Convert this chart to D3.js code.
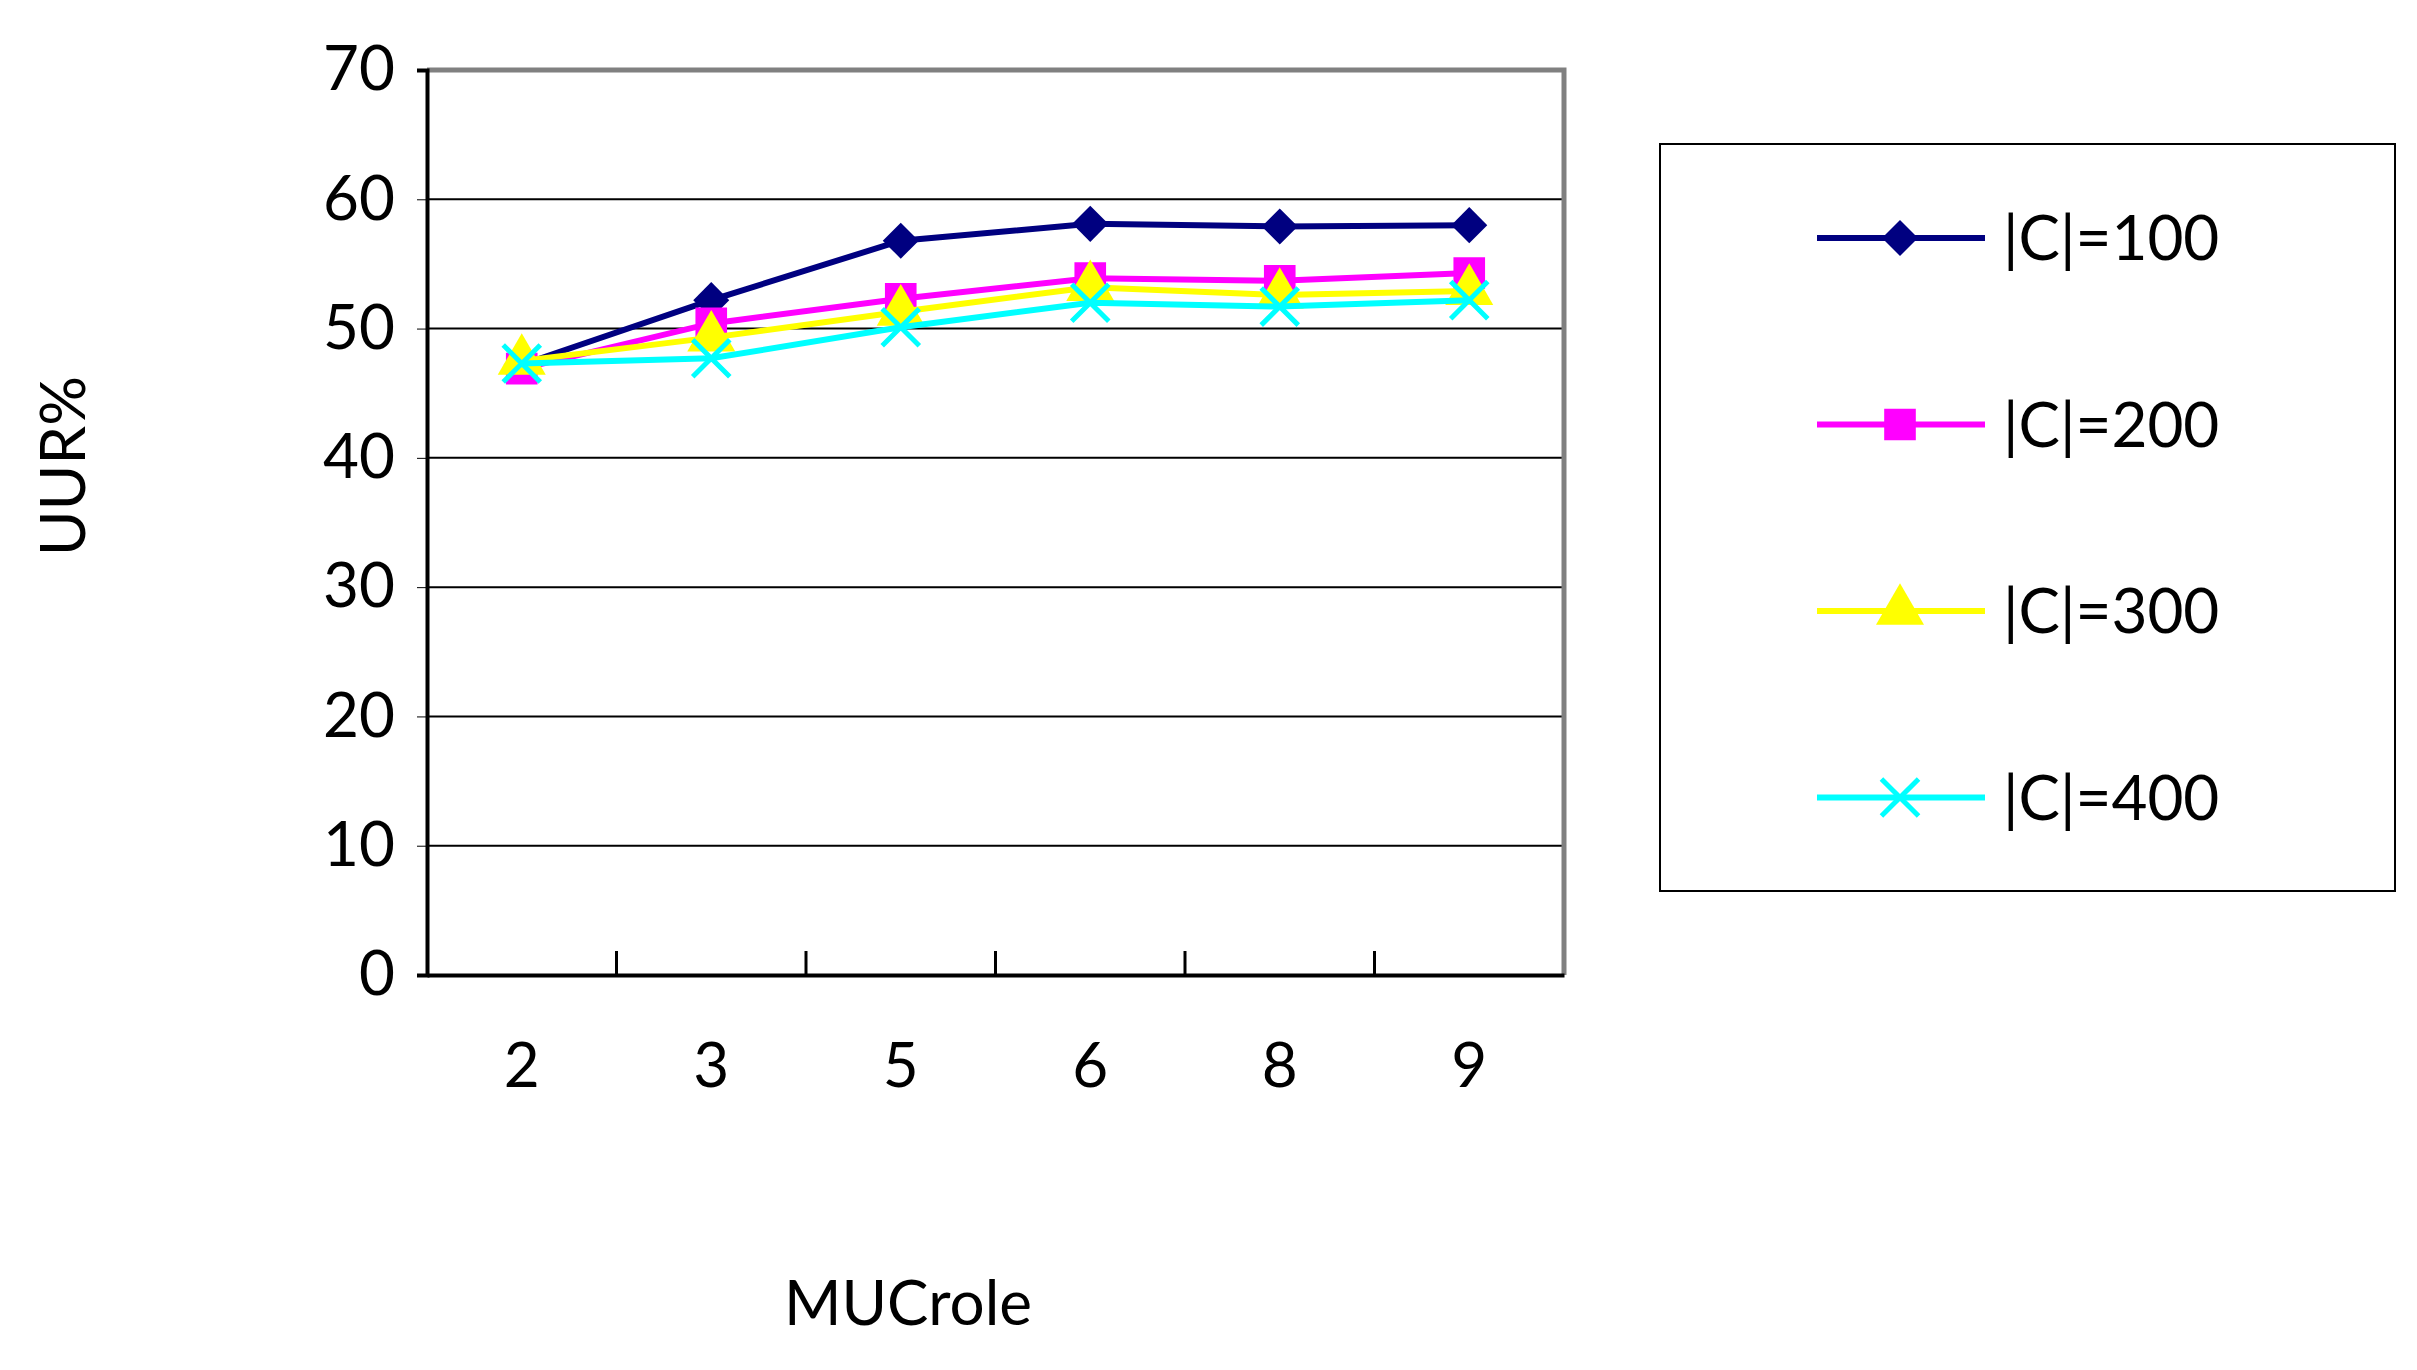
<!DOCTYPE html>
<html><head><meta charset="utf-8">
<script src="https://cdn.jsdelivr.net/npm/d3@7"></script>
<style>body{margin:0;background:#fff}text{font-family:Lato,"Open Sans",sans-serif}</style>
</head><body>
<script>
var categories = ['2', '3', '5', '6', '8', '9'];
var seriesNames = ['|C|=100', '|C|=200', '|C|=300', '|C|=400'];
var c100 = [47.2, 52.2, 56.8, 58.1, 57.9, 58.0];
var c200 = [46.9, 50.4, 52.3, 53.9, 53.7, 54.3];
var c300 = [47.5, 49.3, 51.3, 53.2, 52.6, 52.9];
var c400 = [47.3, 47.7, 50.1, 52.0, 51.7, 52.2];
var yTicks = [0, 10, 20, 30, 40, 50, 60, 70];
var colors = ['#000080', '#ff00ff', '#ffff00', '#00ffff'];
var symbols = [d3.symbolSquare, d3.symbolSquare, d3.symbolTriangle, d3.symbolX];
var rot = [45, 0, 0, 0];
var sizes = [650, 1000, 1000, 900];
var series = [c100, c200, c300, c400];

var width = 2417, height = 1370;
var L = 427, R = 1564, T = 70, B = 975;

var svg = d3.select('body').append('svg').attr('width', width).attr('height', height);

var x = d3.scaleBand().domain(categories).range([L, R]);
var y = d3.scaleLinear().domain([0, 70]).range([B, T]);

// gridlines
svg.append('g').selectAll('line').data(yTicks.slice(1, -1)).enter().append('line')
  .attr('x1', L).attr('x2', R).attr('y1', y).attr('y2', y)
  .attr('stroke', '#000').attr('stroke-width', 2);

// frame top/right
svg.append('path').attr('d', 'M' + L + ',' + T + 'H' + R + 'V' + B)
  .attr('fill', 'none').attr('stroke', '#808080').attr('stroke-width', 5);

// y axis
var ya = svg.append('g').attr('transform', 'translate(' + L + ',0)')
  .call(d3.axisLeft(y).tickValues(yTicks).tickSize(10).tickPadding(22));
ya.select('.domain').attr('stroke-width', 4);
ya.selectAll('text').attr('font-size', 62).attr('fill', '#000');

// x axis
var xa = svg.append('g').attr('transform', 'translate(0,' + B + ')')
  .call(d3.axisBottom(x).tickSize(0).tickPadding(68));
xa.select('.domain').attr('stroke-width', 4);
xa.selectAll('text').attr('font-size', 62).attr('fill', '#000');
svg.append('g').selectAll('line').data(categories.slice(1)).enter().append('line')
  .attr('x1', function(d) { return x(d); }).attr('x2', function(d) { return x(d); })
  .attr('y1', B).attr('y2', B - 24).attr('stroke', '#000').attr('stroke-width', 3);

var line = d3.line()
  .x(function(d, i) { return x(categories[i]) + x.bandwidth() / 2; })
  .y(function(d) { return y(d); });

series.forEach(function(s, k) {
  svg.append('path').datum(s).attr('d', line)
    .attr('fill', 'none').attr('stroke', colors[k]).attr('stroke-width', 6);
  svg.append('g').selectAll('path').data(s).enter().append('path')
    .attr('transform', function(d, i) {
      return 'translate(' + (x(categories[i]) + x.bandwidth() / 2) + ',' + y(d) + ') rotate(' + rot[k] + ')';
    })
    .attr('d', d3.symbol().type(symbols[k]).size(sizes[k]))
    .attr('fill', colors[k]).attr('stroke', colors[k]).attr('stroke-width', k === 3 ? 5 : 0);
});

// axis titles
svg.append('text').attr('transform', 'translate(85,466) rotate(-90)')
  .attr('text-anchor', 'middle').attr('font-size', 62).text('UUR%');
svg.append('text').attr('x', 908).attr('y', 1325)
  .attr('text-anchor', 'middle').attr('font-size', 62).text('MUCrole');

// legend
svg.append('rect').attr('x', 1660).attr('y', 144).attr('width', 735).attr('height', 747)
  .attr('fill', '#fff').attr('stroke', '#000').attr('stroke-width', 2);
var lg = svg.append('g').selectAll('g').data(seriesNames).enter().append('g')
  .attr('transform', function(d, i) { return 'translate(0,' + (238 + i * 186.5) + ')'; });
lg.append('line').attr('x1', 1817).attr('x2', 1985)
  .attr('stroke', function(d, i) { return colors[i]; }).attr('stroke-width', 6);
lg.append('path').attr('transform', function(d, i) { return 'translate(1900,0) rotate(' + rot[i] + ')'; })
  .attr('d', function(d, i) { return d3.symbol().type(symbols[i]).size(sizes[i])(); })
  .attr('fill', function(d, i) { return colors[i]; })
  .attr('stroke', function(d, i) { return colors[i]; })
  .attr('stroke-width', function(d, i) { return i === 3 ? 5 : 0; });
lg.append('text').attr('x', 2003).attr('y', 22).attr('font-size', 62).text(function(d) { return d; });
</script>
</body></html>
